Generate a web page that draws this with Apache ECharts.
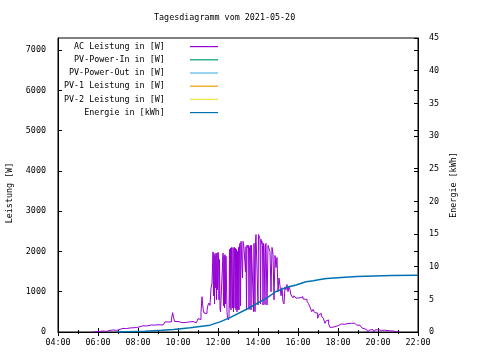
<!DOCTYPE html>
<html><head><meta charset="utf-8">
<script src="https://cdn.jsdelivr.net/npm/echarts@6/dist/echarts.min.js"></script>
<style>html,body{margin:0;padding:0;background:#fff}#c{width:480px;height:360px}</style>
</head><body><div id="c"></div>
<script>
const titleText = 'Tagesdiagramm vom 2021-05-20';
const seriesNames = ['AC Leistung in [W]','PV-Power-In in [W]','PV-Power-Out in [W]','PV-1 Leistung in [W]','PV-2 Leistung in [W]','Energie in [kWh]'];
const seriesColors = ['#9400d3','#009e73','#56b4e9','#e69f00','#f0e442','#0072b2'];
const xTicks = ['04:00','06:00','08:00','10:00','12:00','14:00','16:00','18:00','20:00','22:00'];

const acTimes = ['05:45','05:50','06:00','06:06','06:15','06:20','06:25','06:36','06:45','06:50','06:56','07:06','07:15','07:25','07:36','07:45','07:55','08:06','08:15','08:26','08:40','08:50','09:00','09:06','09:15','09:21','09:30','09:36','09:40','09:44','09:47','09:50','10:00','10:06','10:15','10:26','10:35','10:45','10:55',
'11:00','11:03','11:06','11:09','11:12','11:15','11:18','11:21','11:24','11:27','11:30','11:33','11:36','11:39','11:42',
'11:45:00','11:46:30','11:48:00','11:49:30','11:51:00','11:52:30','11:54:00','11:55:30','11:57:00','11:58:30',
'12:00:00','12:01:30','12:03:00','12:04:30','12:06:00','12:07:30','12:09:00','12:10:30','12:12:00','12:13:30',
'12:15:00','12:16:30','12:18:00','12:19:30','12:21:00','12:22:30','12:24:00','12:25:30','12:27:00','12:28:30',
'12:30:00','12:31:30','12:33:00','12:34:30','12:36:00','12:37:30','12:39:00','12:40:30','12:42:00','12:43:30',
'12:45:00','12:46:30','12:48:00','12:49:30','12:51:00','12:52:30','12:54:00','12:55:30','12:57:00','12:58:30',
'13:00:00','13:01:30','13:03:00','13:04:30','13:06:00','13:07:30','13:09:00','13:10:30','13:12:00','13:13:30',
'13:15:00','13:16:30','13:18:00','13:19:30','13:21:00','13:22:30','13:24:00','13:25:30','13:27:00','13:28:30',
'13:30:00','13:31:30','13:33:00','13:34:30','13:36:00','13:37:30','13:39:00','13:40:30','13:42:00','13:43:30',
'13:45:00','13:46:30','13:48:00','13:49:30','13:51:00','13:52:30','13:54:00','13:55:30','13:57:00','13:58:30',
'14:00:00','14:01:30','14:03:00','14:04:30','14:06:00','14:07:30','14:09:00','14:10:30','14:12:00','14:13:30',
'14:15:00','14:16:30','14:18:00','14:19:30','14:21:00','14:22:30',
'14:24','14:27','14:30','14:33','14:36','14:39','14:42','14:45','14:48','14:51','14:54','14:57',
'15:00','15:03','15:06','15:09','15:12','15:15','15:18','15:21','15:24','15:27','15:30','15:33','15:36','15:39','15:42','15:45','15:48','15:51','15:54','15:57',
'16:00','16:06','16:15','16:21','16:27','16:31','16:36','16:41','16:45','16:50','16:55','16:59','17:03','17:06','17:10','17:16','17:19','17:21','17:25','17:28','17:32','17:36','17:40','17:46','17:52',
'18:01','18:10','18:20','18:30','18:40','18:50','18:56','19:06','19:12','19:18','19:26','19:30','19:34','19:40','19:45','19:48','19:52','20:00','20:06','20:10','20:14','20:20','20:26','20:35','20:45','20:55','21:00'];
const acPower = [0,10,20,25,30,15,40,50,60,40,65,90,85,100,105,110,130,155,150,175,170,180,175,175,210,250,245,250,300,480,350,260,240,230,240,250,260,230,270,
330,300,310,480,875,590,470,500,460,540,670,720,660,1090,1215,
1990,900,1950,700,1900,1100,1960,800,1950,1050,
1980,1900,800,1800,600,500,480,520,500,540,
1960,650,1900,600,1920,700,1880,1850,500,350,
330,300,380,2050,600,2080,550,2100,2080,600,
2100,500,2050,2100,600,2080,550,2050,500,2000,
560,2100,550,2150,2200,650,2250,2280,2260,1340,
2250,2200,2080,2100,2100,1500,2120,545,2160,2100,
2080,2150,560,2100,2080,2150,550,2150,2160,2120,
2140,505,2200,2180,505,2250,2420,2440,2460,2400,
670,2420,2380,2350,2300,700,2300,2200,2250,2150,
670,2200,2150,2180,680,2150,
2200,670,2150,2180,2000,1000,2100,1930,800,1900,1600,1850,
1000,1340,1150,900,1100,750,700,1120,1050,1180,1000,1120,1050,920,880,850,900,860,840,870,
850,875,820,810,760,710,620,505,560,480,470,340,430,460,400,340,300,215,280,300,200,115,120,150,160,
200,190,210,215,220,210,170,130,100,60,30,0,50,60,50,0,55,60,40,0,45,40,30,25,10,5,0];

const enTimes = ['06:56','07:30','08:21','09:11','09:46','10:16','10:36','11:36','12:06','12:36','13:30','14:28','14:54','15:24','15:54','16:24','16:46','17:06','17:26','18:10','18:56','20:40','22:00'];
const enValues = [0,0.05,0.1,0.25,0.4,0.55,0.65,1.05,1.55,2.2,3.6,5.25,6.2,6.8,7.2,7.7,7.85,8.05,8.2,8.35,8.5,8.65,8.7];

function toH(t){const p=t.split(':');return (+p[0])+(+p[1])/60+(p[2]?(+p[2])/3600:0);}
const acData = acTimes.map((t,i)=>[toH(t),acPower[i]]);
const enData = enTimes.map((t,i)=>[toH(t),enValues[i]]);

const F = 'DejaVu Sans Mono';
const FS = 8.4;
const chart = echarts.init(document.getElementById('c'),null,{renderer:'canvas'});
const series = seriesNames.map((n,i)=>({
  name:n, type:'line', showSymbol:false, symbol:'none', animation:false,
  step: i===0 ? 'end' : false,
  xAxisIndex:0, yAxisIndex: i===5?1:0,
  data: i===0?acData:(i===5?enData:[]),
  lineStyle:{color:seriesColors[i], width: i===5?1.5:1},
  itemStyle:{color:seriesColors[i]},
  color:seriesColors[i]
}));
chart.setOption({
  animation:false,
  backgroundColor:'#fff',
  title:{text:titleText,left:154,top:14,padding:0,textStyle:{fontFamily:F,fontSize:FS,fontWeight:'normal',color:'#000'}},
  legend:{orient:'vertical',right:262,top:40,padding:0,align:'right',icon:'rect',itemWidth:28,itemHeight:1.2,itemGap:0,selectedMode:false,
    data:seriesNames, formatter:n=>n+'    ',
    textStyle:{fontFamily:F,fontSize:FS,color:'#000',lineHeight:13.2}},
  grid:{left:58,right:62,top:38,bottom:28,show:true,borderColor:'#000',borderWidth:1,containLabel:false,outerBoundsMode:'none'},
  xAxis:[
    {type:'value',min:4,max:22,interval:2,position:'bottom',
     axisLine:{show:true,lineStyle:{color:'#000',width:1}},
     axisTick:{show:true,inside:true,length:4,lineStyle:{color:'#000'}},
     minorTick:{show:true,splitNumber:2,length:2,lineStyle:{color:'#000'}},
     splitLine:{show:false},minorSplitLine:{show:false},
     axisLabel:{margin:7,fontFamily:F,fontSize:FS,color:'#000',formatter:v=>xTicks[Math.round((v-4)/2)]||''}},
    {type:'value',min:4,max:22,interval:2,position:'top',
     axisLine:{show:false},axisTick:{show:true,inside:true,length:4,lineStyle:{color:'#000'}},
     minorTick:{show:true,splitNumber:2,length:2,lineStyle:{color:'#000'}},
     splitLine:{show:false},axisLabel:{show:false}}
  ],
  yAxis:[
    {type:'value',min:0,max:7300,interval:1000,position:'left',name:'Leistung [W]',nameLocation:'middle',nameGap:44,nameRotate:90,
     nameTextStyle:{fontFamily:F,fontSize:FS,color:'#000',padding:[0,16,0,0]},
     axisLine:{show:true,lineStyle:{color:'#000'}},
     axisTick:{show:true,inside:true,length:4,lineStyle:{color:'#000'}},
     splitLine:{show:false},
     axisLabel:{margin:12,showMaxLabel:false,fontFamily:F,fontSize:FS,color:'#000',formatter:v=>(v%1000===0?String(v):'')}},
    {type:'value',min:0,max:45,interval:5,position:'right',name:'Energie [kWh]',nameLocation:'middle',nameGap:32,nameRotate:90,
     nameTextStyle:{fontFamily:F,fontSize:FS,color:'#000'},
     axisLine:{show:true,lineStyle:{color:'#000'}},
     axisTick:{show:true,inside:true,length:4,lineStyle:{color:'#000'}},
     splitLine:{show:false},
     axisLabel:{margin:11,fontFamily:F,fontSize:FS,color:'#000'}},
    {type:'value',min:0,max:7300,interval:1000,position:'right',
     axisLine:{show:false},axisTick:{show:true,inside:true,length:4,lineStyle:{color:'#000'}},
     splitLine:{show:false},axisLabel:{show:false}}
  ],
  series:series
});
</script></body></html>
